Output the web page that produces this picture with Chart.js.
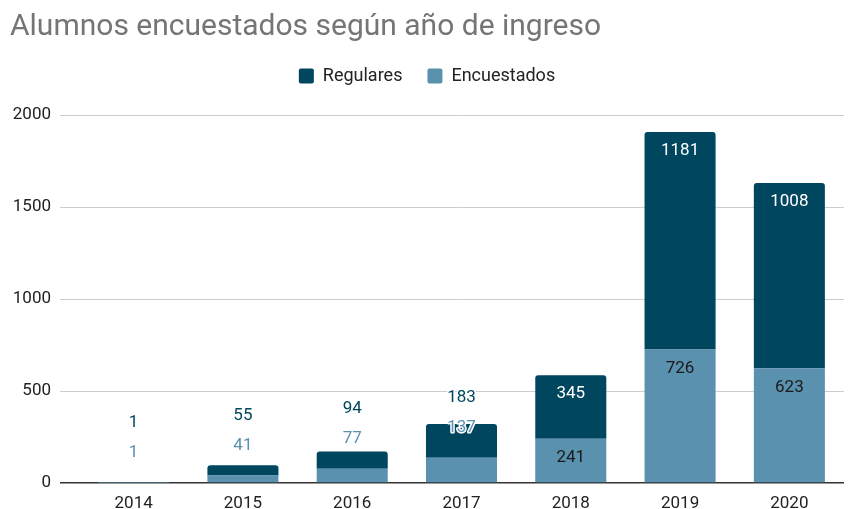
<!DOCTYPE html>
<html>
<head>
<meta charset="utf-8">
<script src="https://cdn.jsdelivr.net/npm/chart.js@4"></script>
<style>
html,body{margin:0;padding:0;background:#fff;}
#wrap{width:849px;height:509px;position:relative;}
</style>
</head>
<body>
<div id="wrap"><canvas id="c" width="849" height="509"></canvas></div>
<script>
const categories = ['2014','2015','2016','2017','2018','2019','2020'];
const encuestados = [1, 41, 77, 137, 241, 726, 623];
const regulares = [1, 55, 94, 183, 345, 1181, 1008];
const yTicks = [0, 500, 1000, 1500, 2000];

const DARK = '#01465f';
const LIGHT = '#5a91ae';

const labelPlugin = {
  id: 'valueLabels',
  afterDatasetsDraw(chart) {
    const ctx = chart.ctx;
    const y = chart.scales.y;
    const metaE = chart.getDatasetMeta(0);
    ctx.save();
    ctx.font = '17px Roboto';
    ctx.textAlign = 'center';
    ctx.textBaseline = 'middle';
    const MIN_INSIDE = 40;
    function draw(text, x, yy, fill, halo) {
      if (halo) {
        ctx.lineWidth = 3;
        ctx.strokeStyle = '#ffffff';
        ctx.lineJoin = 'round';
        ctx.strokeText(text, x, yy);
      }
      ctx.fillStyle = fill;
      ctx.fillText(text, x, yy);
    }
    categories.forEach((c, i) => {
      const x = metaE.data[i].x;
      const base = y.getPixelForValue(0);
      const eTop = y.getPixelForValue(encuestados[i]);
      const rTop = y.getPixelForValue(encuestados[i] + regulares[i]);
      let eLabelY;
      const eInside = (base - eTop) >= MIN_INSIDE;
      if (eInside) {
        eLabelY = eTop + 19;
        draw(String(encuestados[i]), x, eLabelY, '#1a1a1a', false);
      } else {
        eLabelY = eTop - 30;
        draw(String(encuestados[i]), x, eLabelY, LIGHT, true);
      }
      const rInside = eInside && (eTop - rTop) >= MIN_INSIDE;
      if (rInside) {
        draw(String(regulares[i]), x, rTop + 19, '#ffffff', false);
      } else {
        const ry = eInside ? rTop - 30 : eLabelY - 30;
        draw(String(regulares[i]), x, ry, DARK, true);
      }
    });
    ctx.restore();
  }
};

new Chart(document.getElementById('c'), {
  type: 'bar',
  data: {
    labels: categories,
    datasets: [
      { label: 'Encuestados', data: encuestados, backgroundColor: LIGHT, borderRadius: 0,
        categoryPercentage: 1, barPercentage: 0.65 },
      { label: 'Regulares', data: regulares, backgroundColor: DARK,
        borderRadius: {topLeft: 3, topRight: 3, bottomLeft: 0, bottomRight: 0}, borderSkipped: 'start',
        categoryPercentage: 1, barPercentage: 0.65 }
    ]
  },
  options: {
    responsive: false,
    animation: false,
    devicePixelRatio: 1,
    layout: { padding: { left: 10, right: 5, top: 0, bottom: 0 } },
    plugins: {
      title: {
        display: true,
        text: 'Alumnos encuestados según año de ingreso',
        align: 'start',
        color: '#757575',
        font: { family: 'Roboto', size: 30, weight: 'normal', lineHeight: 1 },
        padding: { top: 12, bottom: 0 }
      },
      subtitle: {
        display: true,
        text: ' ',
        weight: 500,
        font: { size: 1, lineHeight: 1 },
        padding: { top: 19, bottom: 0 }
      },
      legend: {
        display: true,
        reverse: true,
        labels: {
          font: { family: 'Roboto', size: 18 },
          color: '#222222',
          boxWidth: 15,
          boxHeight: 15,
          padding: 25,
          useBorderRadius: true,
          borderRadius: 2
        }
      },
      tooltip: { enabled: false }
    },
    scales: {
      x: {
        stacked: true,
        grid: { display: false },
        border: { display: false },
        ticks: { color: '#222222', font: { family: 'Roboto', size: 17 }, padding: 3 },
        afterFit(s) { s.height = 26; }
      },
      y: {
        stacked: true,
        min: 0, max: 2000,
        afterBuildTicks(s) { s.ticks = yTicks.map(v => ({ value: v })); },
        grid: {
          color: ctx => ctx.tick && ctx.tick.value === 0 ? '#333333' : '#cccccc',
          lineWidth: ctx => ctx.tick && ctx.tick.value === 0 ? 1.5 : 1,
          tickLength: 19,
          drawTicks: true
        },
        border: { display: false },
        ticks: { color: '#222222', font: { family: 'Roboto', size: 17 }, padding: 9,
          callback: v => String(v) },
        afterFit(s) { s.width = 69; }
      }
    }
  },
  plugins: [labelPlugin]
});
</script>
</body>
</html>
